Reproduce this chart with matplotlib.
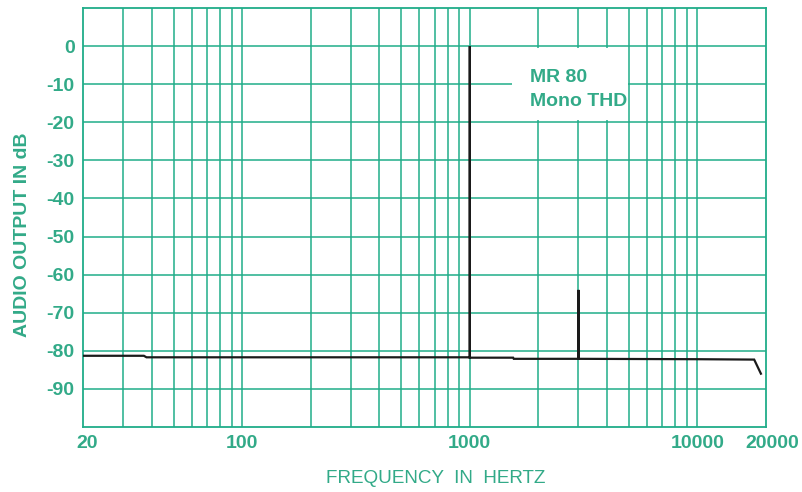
"""
MR 80 mono THD spectrum: audio output level vs frequency on a log axis,
drawn in the style of a printed spec-sheet graph.
"""

import matplotlib.pyplot as plt
from matplotlib.patches import Rectangle
from matplotlib.ticker import FixedLocator, NullFormatter
from matplotlib.transforms import ScaledTranslation

GREEN = "#20ad89"
TEXT_GREEN = "#32aa88"

# ---------------------------------------------------------------------
# Measured trace (Hz, dB); repeated frequencies draw the harmonic spikes
# ---------------------------------------------------------------------
freq_hz = [20, 37, 38, 1000, 1000, 1000, 1550, 1560, 3000, 3000, 3000,
           10000, 17750, 19000]
level_db = [-81.3, -81.3, -81.7, -81.7, 0.0, -81.8, -81.8, -82.1, -82.1,
            -64.0, -82.1, -82.2, -82.3, -86.0]

x_major = [20, 100, 1000, 10000, 20000]
x_major_labels = ["20", "100", "1000", "10000", "20000"]
x_minor = [30, 40, 50, 60, 70, 80, 90,
           200, 300, 400, 500, 600, 700, 800, 900,
           2000, 3000, 4000, 5000, 6000, 7000, 8000, 9000]
y_ticks = [0, -10, -20, -30, -40, -50, -60, -70, -80, -90]
y_grid = [0, -10, -20, -30, -40, -50, -60, -70, -80, -90]

plt.rcParams["font.family"] = ["Liberation Sans", "DejaVu Sans"]

fig = plt.figure(figsize=(8.03, 4.92), dpi=100)
ax = fig.add_axes([0.1034, 0.1321, 0.8505, 0.8516])

ax.set_xscale("log")
ax.set_xlim(20, 20000)
ax.set_ylim(-100, 10)

# grid lines
for f in x_major[1:-1] + x_minor:
    ax.axvline(f, color=GREEN, linewidth=1.1, zorder=1)
for y in y_grid:
    ax.axhline(y, color=GREEN, linewidth=1.1, zorder=1)

for side in ax.spines.values():
    side.set_color(GREEN)
    side.set_linewidth(1.3)

# white panel behind the caption
ax.add_patch(Rectangle((1540, -19.5), 4950 - 1540, 19,
                       facecolor="white", edgecolor="none", zorder=2))
ax.text(1830, -11.4, "MR 80\nMono THD", color=TEXT_GREEN, fontsize=14,
        fontweight="bold", va="center", ha="left", linespacing=1.55, zorder=3)

ax.plot(freq_hz, level_db, color="#1a1a1a", linewidth=1.6, zorder=4,
        solid_joinstyle="miter")

ax.xaxis.set_major_locator(FixedLocator(x_major))
ax.xaxis.set_minor_locator(FixedLocator(x_minor))
ax.xaxis.set_minor_formatter(NullFormatter())
ax.set_xticklabels(x_major_labels)
ax.set_yticks(y_ticks)
ax.set_yticklabels([str(v) for v in y_ticks])

ax.tick_params(which="both", length=0, colors=TEXT_GREEN, labelsize=14)
ax.tick_params(axis="x", pad=6)
ax.tick_params(axis="y", pad=6)
for lab in ax.get_xticklabels() + ax.get_yticklabels():
    lab.set_fontweight("bold")

# end labels of the frequency scale sit a little right of their ticks
xl = ax.get_xticklabels()
for lab, dx in ((xl[0], 4), (xl[-1], 6)):
    lab.set_transform(lab.get_transform()
                      + ScaledTranslation(dx / 100, 0, fig.dpi_scale_trans))

fig.text(0.0274, 0.522, "AUDIO OUTPUT IN dB", rotation=90, color=TEXT_GREEN,
         fontsize=14, fontweight="bold", ha="center", va="center")
fig.text(0.543, 0.028, "FREQUENCY  IN  HERTZ", color=TEXT_GREEN,
         fontsize=13.6, ha="center", va="center")

fig.savefig("out.png", dpi=100, facecolor="white")
